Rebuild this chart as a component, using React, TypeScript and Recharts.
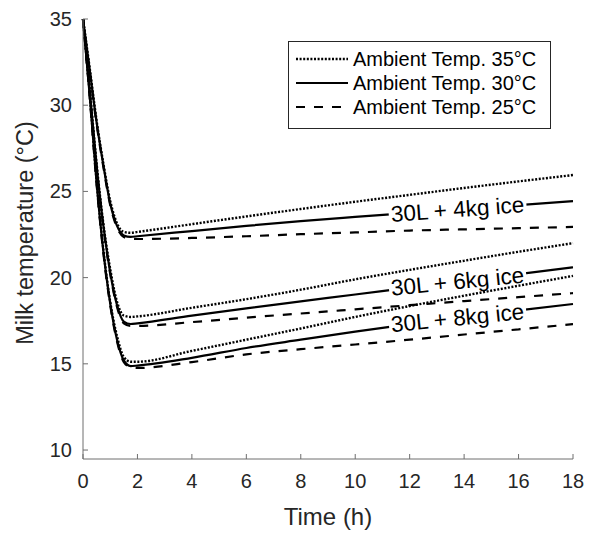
import React from "react";
import { LineChart, Line, XAxis, YAxis, Legend, ReferenceDot } from "recharts";

// time axis (h)
const hours = [0, 0.25, 0.5, 0.75, 1, 1.25, 1.5, 1.75, 2, 4, 6, 8, 10, 12, 14, 16, 18];

// milk temperature (°C), 30L of milk with 4 / 6 / 8 kg ice, ambient 35 / 30 / 25 °C
const ice4_35 = [35, 32.1, 29.1, 26.6, 24.45, 23.15, 22.65, 22.6, 22.65, 23.1, 23.55, 23.98, 24.4, 24.8, 25.2, 25.58, 25.95];
const ice4_30 = [35, 32.0, 29.0, 26.5, 24.3, 23.0, 22.45, 22.36, 22.4, 22.7, 23.0, 23.28, 23.52, 23.75, 23.98, 24.2, 24.44];
const ice4_25 = [35, 31.9, 28.9, 26.4, 24.2, 22.9, 22.35, 22.25, 22.24, 22.3, 22.4, 22.52, 22.62, 22.73, 22.8, 22.87, 22.94];
const ice6_35 = [35, 30.9, 26.6, 23.1, 20.5, 18.6, 17.8, 17.72, 17.75, 18.25, 18.75, 19.3, 19.9, 20.45, 20.98, 21.5, 22.0];
const ice6_30 = [35, 30.8, 26.5, 23.0, 20.3, 18.4, 17.45, 17.31, 17.35, 17.8, 18.22, 18.62, 19.02, 19.42, 19.82, 20.2, 20.6];
const ice6_25 = [35, 30.7, 26.4, 22.9, 20.2, 18.3, 17.35, 17.2, 17.2, 17.42, 17.68, 17.92, 18.16, 18.4, 18.64, 18.87, 19.1];
const ice8_35 = [35, 30.6, 25.6, 21.6, 18.6, 16.6, 15.4, 15.12, 15.12, 15.75, 16.4, 17.05, 17.72, 18.35, 18.95, 19.53, 20.1];
const ice8_30 = [35, 30.5, 25.5, 21.5, 18.5, 16.4, 15.2, 14.87, 14.9, 15.35, 15.92, 16.4, 16.87, 17.3, 17.7, 18.1, 18.47];
const ice8_25 = [35, 30.4, 25.4, 21.4, 18.4, 16.3, 15.1, 14.8, 14.76, 15.1, 15.55, 15.85, 16.12, 16.4, 16.7, 17.0, 17.3];

const xTicks = [0, 2, 4, 6, 8, 10, 12, 14, 16, 18];
const yTicks = [10, 15, 20, 25, 30, 35];

const legendNames = ["Ambient Temp. 35°C", "Ambient Temp. 30°C", "Ambient Temp. 25°C"];

// inline labels sit on the 30°C curves
const curveLabels = [
  { text: "30L + 4kg ice", x: 13.76, y: 23.95, angle: -4.3 },
  { text: "30L + 6kg ice", x: 13.76, y: 19.77, angle: -5.7 },
  { text: "30L + 8kg ice", x: 13.76, y: 17.65, angle: -5.7 },
];

const DOTTED = "2 1.6";
const DASHED = "9 9";
const dashes = [DOTTED, undefined, DASHED];

const series = [
  { key: "ice4_35", values: ice4_35, dash: DOTTED },
  { key: "ice4_30", values: ice4_30, dash: undefined },
  { key: "ice4_25", values: ice4_25, dash: DASHED },
  { key: "ice6_35", values: ice6_35, dash: DOTTED },
  { key: "ice6_30", values: ice6_30, dash: undefined },
  { key: "ice6_25", values: ice6_25, dash: DASHED },
  { key: "ice8_35", values: ice8_35, dash: DOTTED },
  { key: "ice8_30", values: ice8_30, dash: undefined },
  { key: "ice8_25", values: ice8_25, dash: DASHED },
];

const data = hours.map((h, i) => {
  const row: Record<string, number> = { h };
  series.forEach(s => (row[s.key] = s.values[i]));
  return row;
});

const FONT = '"Liberation Sans", Arial, sans-serif';
const TEXT = "#262626";
const AXIS = "#6e6e6e";

function YTick({ x, y, payload }: any) {
  return (
    <g>
      <line x1={x} y1={y} x2={x + 5} y2={y} stroke={AXIS} />
      <text x={x - 11} y={y} textAnchor="end" dominantBaseline="central" fontSize={20} fill={TEXT} fontFamily={FONT}>
        {payload.value}
      </text>
    </g>
  );
}

function XTick({ x, y, payload }: any) {
  return (
    <g>
      <line x1={x} y1={y} x2={x} y2={y - 5} stroke={AXIS} />
      <text x={x} y={y + 22} textAnchor="middle" dominantBaseline="central" fontSize={20} fill={TEXT} fontFamily={FONT}>
        {payload.value}
      </text>
    </g>
  );
}

function LegendBox() {
  return (
    <div
      style={{
        border: "1px solid #262626",
        background: "#fff",
        width: 261,
        height: 81,
        paddingTop: 5,
        boxSizing: "content-box",
        fontFamily: FONT,
      }}
    >
      {legendNames.map((name, i) => (
        <div key={name} style={{ display: "flex", alignItems: "center", height: 24 }}>
          <svg width={60} height={24} style={{ display: "block" }}>
            <line x1={7} y1={12} x2={59} y2={12} stroke="#000" strokeWidth={i === 0 ? 2.4 : 2.2} strokeDasharray={dashes[i]} />
          </svg>
          <span style={{ fontSize: 20, color: "#000", marginLeft: 4, lineHeight: "24px", whiteSpace: "nowrap" }}>{name}</span>
        </div>
      ))}
    </div>
  );
}

function CurveLabel({ cx, cy, text, angle }: any) {
  return (
    <g transform={`translate(${cx},${cy}) rotate(${angle})`}>
      <rect x={-69} y={-5} width={138} height={10} fill="#fff" />
      <text x={0} y={0} textAnchor="middle" dominantBaseline="central" fontSize={22.5} fill="#000" fontFamily={FONT}>
        {text}
      </text>
    </g>
  );
}

export default function App() {
  return (
    <div style={{ position: "fixed", left: 0, top: 0, background: "#fff" }}>
      <LineChart width={599} height={534} data={data} margin={{ top: 19, right: 26, bottom: 15, left: 23 }}>
        <XAxis
          dataKey="h"
          type="number"
          domain={[0, 18]}
          ticks={xTicks}
          height={60}
          stroke={AXIS}
          tickSize={0}
          tickMargin={0}
          tick={<XTick />}
          label={{
            content: ({ viewBox }: any) => (
              <text
                x={viewBox.x + viewBox.width / 2}
                y={525}
                textAnchor="middle"
                fontSize={24}
                fill={TEXT}
                fontFamily={FONT}
              >
                Time (h)
              </text>
            ),
          }}
        />
        <YAxis
          type="number"
          domain={[9.48, 35]}
          ticks={yTicks}
          allowDataOverflow
          width={60}
          stroke={AXIS}
          tickSize={0}
          tickMargin={0}
          tick={<YTick />}
          label={{
            content: ({ viewBox }: any) => {
              const cx = 25;
              const cy = viewBox.y + viewBox.height / 2 - 6;
              return (
                <text
                  x={cx}
                  y={cy}
                  transform={`rotate(-90, ${cx}, ${cy})`}
                  textAnchor="middle"
                  dominantBaseline="central"
                  fontSize={23.5}
                  fill={TEXT}
                  fontFamily={FONT}
                >
                  Milk temperature (°C)
                </text>
              );
            },
          }}
        />
        {series.map(s => (
          <Line
            key={s.key}
            type="monotone"
            dataKey={s.key}
            stroke="#000"
            strokeWidth={s.dash === DOTTED ? 2.4 : 2.2}
            strokeDasharray={s.dash}
            dot={false}
            activeDot={false}
            isAnimationActive={false}
          />
        ))}
        {curveLabels.map(l => (
          <ReferenceDot
            key={l.text}
            x={l.x}
            y={l.y}
            r={0}
            shape={(p: any) => <CurveLabel cx={p.cx} cy={p.cy} text={l.text} angle={l.angle} />}
          />
        ))}
        <Legend
          layout="horizontal"
          verticalAlign="middle"
          align="center"
          wrapperStyle={{ top: 41, left: 288, width: 263, height: 88 }}
          content={() => <LegendBox />}
        />
      </LineChart>
    </div>
  );
}
